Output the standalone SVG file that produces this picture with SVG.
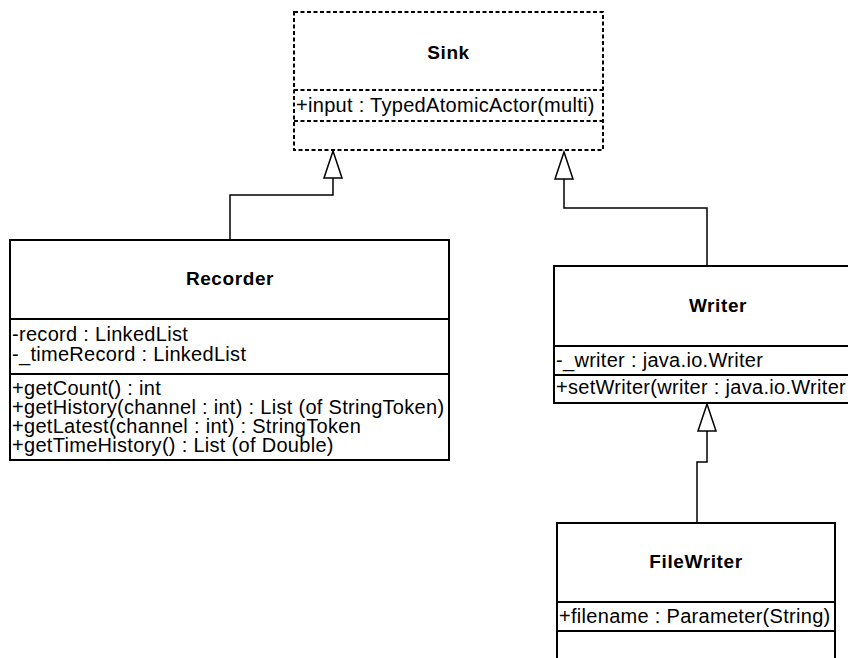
<svg xmlns="http://www.w3.org/2000/svg" width="848" height="658" viewBox="0 0 848 658">
<style>
.box{fill:#fff;stroke:#000;stroke-width:2}
.dash{fill:#fff;stroke:#000;stroke-width:2;stroke-dasharray:4 2.5}
.div{stroke:#000;stroke-width:2}
.ddiv{stroke:#000;stroke-width:2;stroke-dasharray:4 2.5}
.t{font-family:"Liberation Sans",Arial,sans-serif;font-size:20px;letter-spacing:0.3px;fill:#000}
.b{font-family:"Liberation Sans",Arial,sans-serif;font-size:19px;font-weight:bold;letter-spacing:0.6px;fill:#000;text-anchor:middle}
.c{fill:none;stroke:#000;stroke-width:1.5}
</style>
<defs>
<marker id="gen" markerUnits="userSpaceOnUse" markerWidth="30" markerHeight="22" refX="28" refY="10" orient="auto" viewBox="0 0 30 22">
<path d="M1,1 L28,10 L1,19 Z" fill="#fff" stroke="#000" stroke-width="1.5"/>
</marker>
</defs>
<rect width="848" height="658" fill="#fff"/>
<g id="connectors">
<path class="c" d="M230,240 V195 H333 V151" marker-end="url(#gen)"/>
<path class="c" d="M707,266 V208 H564 V152" marker-end="url(#gen)"/>
<path class="c" d="M697,523 V462 H707 V404" marker-end="url(#gen)"/>
</g>
<g id="Sink">
<rect class="dash" x="294" y="12" width="309" height="138"/>
<line class="ddiv" x1="294" y1="90" x2="603" y2="90"/>
<line class="ddiv" x1="294" y1="121" x2="603" y2="121"/>
<text class="b" x="448.5" y="59">Sink</text>
<text class="t" x="296" y="112">+input : TypedAtomicActor(multi)</text>
</g>
<g id="Recorder">
<rect class="box" x="10" y="240" width="439" height="220"/>
<line class="div" x1="10" y1="319" x2="449" y2="319"/>
<line class="div" x1="10" y1="374" x2="449" y2="374"/>
<text class="b" x="230" y="285">Recorder</text>
<text class="t" x="12" y="341">-record : LinkedList</text>
<text class="t" x="12" y="361">-_timeRecord : LinkedList</text>
<text class="t" x="12" y="395">+getCount() : int</text>
<text class="t" x="12" y="414">+getHistory(channel : int) : List (of StringToken)</text>
<text class="t" x="12" y="433">+getLatest(channel : int) : StringToken</text>
<text class="t" x="12" y="452">+getTimeHistory() : List (of Double)</text>
</g>
<g id="Writer">
<rect class="box" x="554" y="266" width="328" height="137"/>
<line class="div" x1="554" y1="346" x2="882" y2="346"/>
<line class="div" x1="554" y1="375" x2="882" y2="375"/>
<text class="b" x="718" y="312">Writer</text>
<text class="t" x="556" y="367">-_writer : java.io.Writer</text>
<text class="t" x="556" y="394">+setWriter(writer : java.io.Writer</text>
</g>
<g id="FileWriter">
<rect class="box" x="557" y="523" width="278" height="150"/>
<line class="div" x1="557" y1="602" x2="835" y2="602"/>
<line class="div" x1="557" y1="631" x2="835" y2="631"/>
<text class="b" x="696" y="568">FileWriter</text>
<text class="t" x="559" y="623">+filename : Parameter(String)</text>
</g>
</svg>
